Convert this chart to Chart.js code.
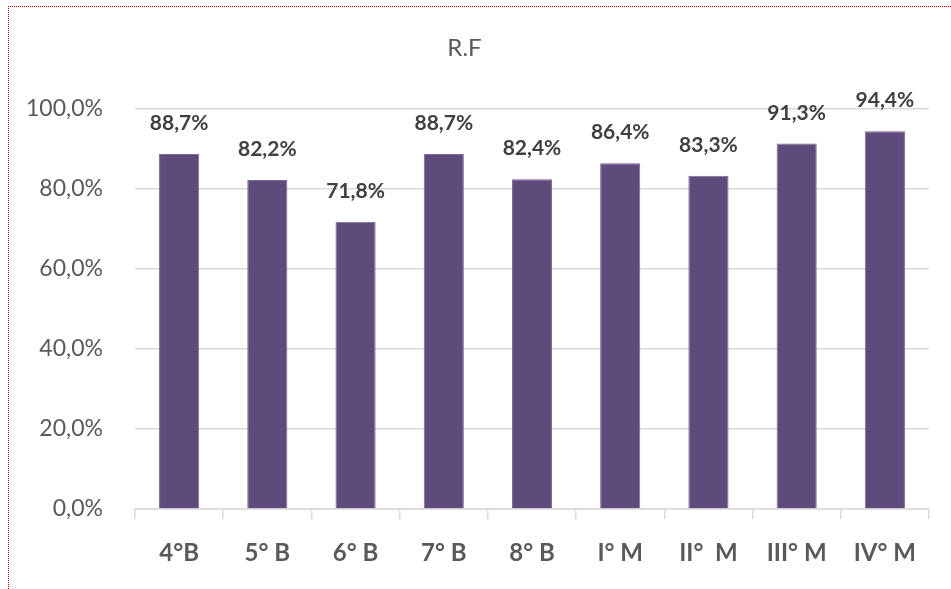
<!DOCTYPE html>
<html>
<head>
<meta charset="utf-8">
<script src="https://cdn.jsdelivr.net/npm/chart.js@4"></script>
<style>
  html, body { margin: 0; padding: 0; background: #fff; }
  #wrap { position: relative; width: 951px; height: 589px; overflow: hidden; }
  #frame {
    position: absolute; left: 8px; top: 6px; width: 1000px; height: 700px;
    border-left: 1px dotted #c00000; border-top: 1px dotted #c00000;
  }
  canvas { position: absolute; left: 0; top: 0; }
</style>
</head>
<body>
<div id="wrap">
  <div id="frame"></div>
  <canvas id="chart" width="951" height="589"></canvas>
</div>
<script>
// categories and values
const categories = ["4°B", "5° B", "6° B", "7° B", "8° B", "I° M", "II°  M", "III° M", "IV° M"];
const rfValues = [88.7, 82.2, 71.8, 88.7, 82.4, 86.4, 83.3, 91.3, 94.4];
const yTicks = [0, 20, 40, 60, 80, 100];

const fmt = v => v.toFixed(1).replace(".", ",") + "%";

// draw value labels above each bar
const valueLabels = {
  id: "valueLabels",
  afterDatasetsDraw(chart) {
    const ctx = chart.ctx;
    const meta = chart.getDatasetMeta(0);
    ctx.save();
    ctx.font = "bold 21px Lato";
    ctx.fillStyle = "#404040";
    ctx.textAlign = "center";
    ctx.textBaseline = "alphabetic";
    meta.data.forEach((bar, i) => {
      ctx.fillText(fmt(rfValues[i]), bar.x, bar.y - 24);
    });
    ctx.restore();
  }
};

new Chart(document.getElementById("chart").getContext("2d"), {
  type: "bar",
  data: {
    labels: categories,
    datasets: [{
      label: "R.F",
      data: rfValues,
      backgroundColor: "#5E4A7B",
      borderColor: "#7A6A94",
      borderWidth: 1,
      categoryPercentage: 1,
      barPercentage: 0.455
    }]
  },
  options: {
    responsive: false,
    animation: false,
    layout: { padding: { left: 0, right: 22, top: 0, bottom: 0 } },
    plugins: {
      legend: { display: false },
      tooltip: { enabled: false },
      title: {
        display: true,
        text: "R.F",
        color: "#595959",
        font: { family: "Lato", size: 24, weight: "normal" },
        padding: { top: 34, bottom: 46 }
      }
    },
    scales: {
      x: {
        grid: {
          drawOnChartArea: false,
          drawTicks: true,
          tickLength: 10,
          color: "#d9d9d9",
          lineWidth: 1.5
        },
        border: { color: "#d9d9d9", width: 1.5 },
        ticks: {
          color: "#595959",
          font: { family: "Lato", size: 24, weight: "bold" },
          padding: 20,
          maxRotation: 0
        },
        afterFit(scale) { scale.height = 80; }
      },
      y: {
        min: 0,
        max: 100,
        afterBuildTicks(scale) { scale.ticks = yTicks.map(v => ({ value: v })); },
        grid: { color: "#d9d9d9", lineWidth: 1.5, drawTicks: false },
        border: { display: false },
        ticks: {
          color: "#595959",
          font: { family: "Lato", size: 23 },
          padding: 32,
          callback: v => fmt(v)
        },
        afterFit(scale) { scale.width = 135; }
      }
    }
  },
  plugins: [valueLabels]
});
</script>
</body>
</html>
